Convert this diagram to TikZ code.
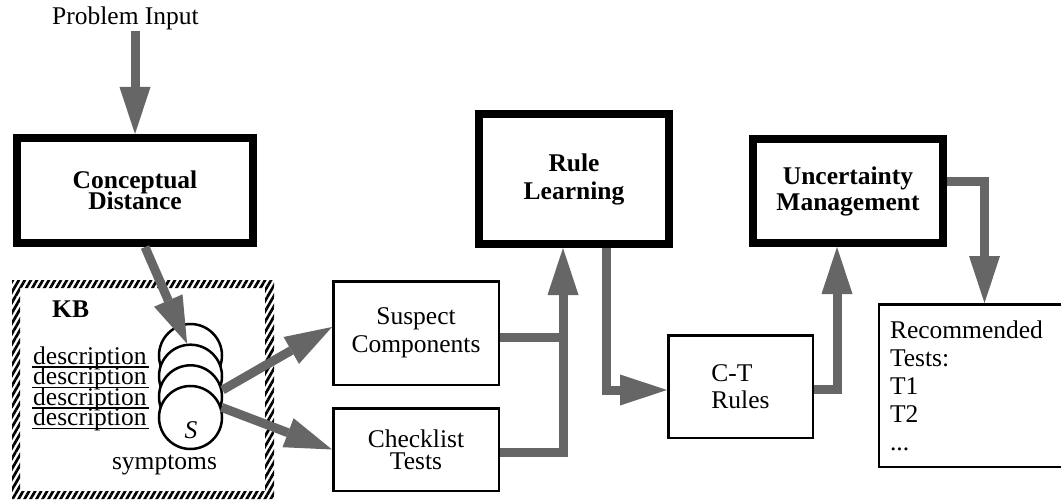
\documentclass[tikz,border=0pt]{standalone}
\usepackage{fontspec}
\setmainfont{Liberation Serif}
\usetikzlibrary{arrows.meta,patterns.meta}
% text size 25.5pt with a chosen baseline skip; lines may crowd
\newcommand\diagfont[1]{\fontsize{25.5}{#1}\selectfont\lineskiplimit=-100pt\relax}
\colorlet{flowgray}{black!60}
\begin{document}
\begin{tikzpicture}[x=1pt,y=-1pt,
  lbl/.style={inner sep=0pt, font=\diagfont{28}},
  thickbox/.style={draw=black, line width=8pt, fill=white, align=center, inner sep=0pt},
  thinbox/.style={draw=black, line width=2.5pt, fill=white, align=center, inner sep=0pt, font=\diagfont{28}},
  disc/.style={circle, draw=black, line width=2.5pt, fill=white, minimum size=63pt, inner sep=0pt},
  trunk/.style={draw=flowgray, line width=9pt},
  flow/.style={trunk, -{Triangle[width=31pt,length=47pt,line width=0pt]}},
  uline/.style={draw=black, line width=1.5pt}]
\useasboundingbox (0,0) rectangle (1061,500);
\clip (0,0) rectangle (1061,500);
\fill[white] (0,0) rectangle (1061,500);

% knowledge base: hatched frame
\fill[pattern={Lines[angle=60,distance=5.2pt,line width=2.7pt]}, even odd rule]
  (12,280) rectangle (274,499) (20,288) rectangle (265,491);
\node[lbl, anchor=base west, font=\bfseries\diagfont{28}] (kb) at (52,317) {KB};
\foreach \i/\yy in {1/364,2/384.5,3/405,4/425.5} {
  \node[lbl, anchor=base west] (d\i) at (33,\yy) {description};
  \draw[uline] ([shift={(-1,3)}]d\i.base west) -- ([shift={(2,3)}]d\i.base east);
}
% stack of symptom records
\foreach \i/\yy in {1/355.5,2/376.2,3/396.8,4/417.5}
  \node[disc] (c\i) at (190.5,\yy) {};
\node[lbl, anchor=base, font=\itshape\diagfont{28}] (s) at (191,438) {S};
\node[lbl, anchor=base] (sym) at (164.5,469) {symptoms};

% input label
\node[lbl, anchor=base] (pin) at (125.5,25) {Problem Input};

% processing modules
\node[thickbox, minimum width=236pt, minimum height=105pt, font=\bfseries\diagfont{21}]
  (cd) at (135,190.5) {Conceptual\\Distance};
\node[thickbox, minimum width=190pt, minimum height=130pt, font=\bfseries\diagfont{28}]
  (rl) at (574,179) {Rule\\Learning};
\node[thickbox, minimum width=190pt, minimum height=104pt, font=\bfseries\diagfont{26}]
  (um) at (848,191) {Uncertainty\\Management};

% intermediate results
\node[thinbox, minimum width=165.5pt, minimum height=103.5pt] (sc) at (416,333) {Suspect\\Components};
\node[thinbox, minimum width=165.5pt, minimum height=82.5pt, font=\diagfont{22}] (ct) at (416,449.5) {Checklist\\Tests};
\node[thinbox, minimum width=144.5pt, minimum height=102.5pt, align=left, font=\diagfont{27}] (ctr) at (740.5,386.5) {C-T\\Rules};
\node[thinbox, text width=189pt, inner xsep=11pt, minimum height=162.5pt, align=left]
  (rt) at (984.5,385.5) {Recommended\\Tests:\\T1\\T2\\...};

% flows
\draw[flow] (pin.south -| cd.north) -- (cd.north);
\draw[flow] ([shift={(10,0)}]cd.south) -- (c2.96);
\draw[flow] (c3.12) -- ([shift={(0,-6)}]sc.west);
\draw[flow] (c4.18) -- (ct.west);
\coordinate (j) at (563,337);
\draw[trunk] ([shift={(0,4)}]sc.east) -- (j);
\draw[flow] ([shift={(0,2.5)}]ct.east) -| (rl.south -| j);
\draw[flow] ([shift={(32,0)}]rl.south) |- ([shift={(0,3.5)}]ctr.west);
\draw[flow] ([shift={(0,3)}]ctr.east) -| ([shift={(-11,0)}]um.south);
\draw[flow] ([shift={(0,-9)}]um.east) -| (rt.north);
\end{tikzpicture}
\end{document}
